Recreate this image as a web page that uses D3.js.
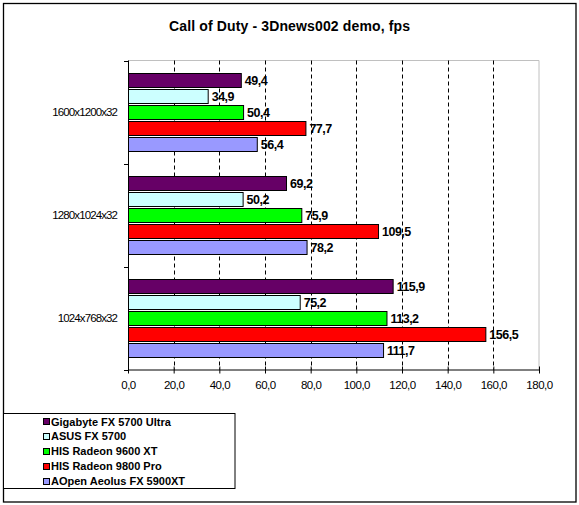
<!DOCTYPE html>
<html>
<head>
<meta charset="utf-8">
<script src="https://cdn.jsdelivr.net/npm/d3@7"></script>
<style>
  html, body { margin: 0; padding: 0; background: #fff; }
  svg { display: block; font-family: Arial, "Liberation Sans", sans-serif; }
</style>
</head>
<body>
<svg id="chart" width="579" height="505"></svg>
<script>
const title = "Call of Duty - 3Dnews002 demo, fps";
const categories = ["1600x1200x32", "1280x1024x32", "1024x768x32"];
const seriesNames = ["Gigabyte FX 5700 Ultra", "ASUS FX 5700", "HIS Radeon 9600 XT", "HIS Radeon 9800 Pro", "AOpen Aeolus FX 5900XT"];
const seriesColors = ["#660066", "#CCFFFF", "#00FF00", "#FF0000", "#9999FF"];
const gigabyteFX5700Ultra = [49.4, 69.2, 115.9];
const asusFX5700 = [34.9, 50.2, 75.2];
const hisRadeon9600XT = [50.4, 75.9, 113.2];
const hisRadeon9800Pro = [77.7, 109.5, 156.5];
const aopenAeolusFX5900XT = [56.4, 78.2, 111.7];
const seriesValues = [gigabyteFX5700Ultra, asusFX5700, hisRadeon9600XT, hisRadeon9800Pro, aopenAeolusFX5900XT];
const xTicks = [0, 20, 40, 60, 80, 100, 120, 140, 160, 180];

const svg = d3.select("#chart");
const fmt = v => d3.format(".1f")(v).replace(".", ",");

// outer border
svg.append("rect").attr("x", 3.5).attr("y", 3.5).attr("width", 572.5).attr("height", 498.5)
  .attr("fill", "#fff").attr("stroke", "#000").attr("stroke-width", 1.3);

// title
svg.append("text").attr("x", 289.5).attr("y", 31).attr("text-anchor", "middle")
  .attr("font-size", 14).attr("font-weight", "bold")
  .attr("textLength", 241).attr("lengthAdjust", "spacing")
  .text(title);

const plot = { left: 128, right: 539, top: 60.5, bottom: 369.5 };
const x = d3.scaleLinear().domain([0, 180]).range([plot.left, plot.right]);
const y0 = d3.scaleBand().domain(categories).range([plot.top, plot.bottom]).padding(0);
const groupPad = 12.7;
const y1 = d3.scaleBand().domain(seriesNames).range([groupPad, y0.bandwidth() - groupPad]).paddingInner(0.15);

// plot area frame (gray top & right)
svg.append("path")
  .attr("d", `M${plot.left},${plot.top}H${plot.right}V${plot.bottom}`)
  .attr("fill", "none").attr("stroke", "#c0c0c0").attr("stroke-width", 1);

// gridlines
svg.append("g").selectAll("line").data(xTicks.filter(t => t > 0 && t < 180)).join("line")
  .attr("x1", d => Math.round(x(d)) + 0.5).attr("x2", d => Math.round(x(d)) + 0.5)
  .attr("y1", plot.top).attr("y2", plot.bottom)
  .attr("stroke", "#000").attr("stroke-width", 1).attr("stroke-dasharray", "4,3");

// bars
const data = [];
categories.forEach((c, ci) => {
  seriesNames.forEach((s, si) => {
    data.push({ cat: c, series: s, color: seriesColors[si], value: seriesValues[si][ci] });
  });
});
const bars = svg.append("g");
bars.selectAll("rect").data(data).join("rect")
  .attr("x", plot.left + 0.5)
  .attr("y", d => Math.round(y0(d.cat) + y1(d.series)) + 0.5)
  .attr("width", d => x(d.value) - plot.left)
  .attr("height", Math.round(y1.bandwidth()))
  .attr("fill", d => d.color).attr("stroke", "#000").attr("stroke-width", 1);

bars.selectAll("text").data(data).join("text")
  .attr("x", d => x(d.value) + 4)
  .attr("y", d => y0(d.cat) + y1(d.series) + y1.bandwidth() / 2)
  .attr("dy", "0.36em")
  .attr("font-size", 12.5).attr("font-weight", "bold").attr("letter-spacing", -0.5)
  .attr("fill", "#000")
  .text(d => fmt(d.value));

// x axis
const xAxis = svg.append("g").attr("transform", `translate(0,${plot.bottom})`)
  .call(d3.axisBottom(x).tickValues(xTicks).tickSize(4).tickFormat(fmt));
xAxis.select(".domain").attr("stroke", "#000").attr("d", `M${plot.left},0.5H${plot.right}`);
xAxis.selectAll(".tick line").attr("stroke", "#000").attr("y1", -3).attr("y2", 4);
xAxis.selectAll(".tick text").attr("y", 11).attr("dy", "0.71em")
  .attr("font-size", 11.5).attr("letter-spacing", -0.5).attr("fill", "#000")
  .attr("font-family", "Arial, 'Liberation Sans', sans-serif");

// y axis
const yAxis = svg.append("g");
yAxis.append("line").attr("x1", plot.left + 0.5).attr("x2", plot.left + 0.5)
  .attr("y1", plot.top).attr("y2", plot.bottom).attr("stroke", "#000");
const bounds = categories.map(c => y0(c)).concat([y0.range()[1]]);
yAxis.selectAll("line.tk").data(bounds).join("line").attr("class", "tk")
  .attr("x1", plot.left - 4).attr("x2", plot.left + 1)
  .attr("y1", d => Math.round(d) + 0.5).attr("y2", d => Math.round(d) + 0.5)
  .attr("stroke", "#000");
yAxis.selectAll("text").data(categories).join("text")
  .attr("x", 117).attr("y", d => y0(d) + y0.bandwidth() / 2).attr("dy", "0.36em")
  .attr("text-anchor", "end").attr("font-size", 11.5).attr("letter-spacing", -0.9)
  .text(d => d);

// legend
const lg = svg.append("g");
lg.append("rect").attr("x", 3.5).attr("y", 413.5).attr("width", 231.5).attr("height", 75)
  .attr("fill", "#fff").attr("stroke", "#000").attr("stroke-width", 1);
const ly = d3.scalePoint().domain(seriesNames).range([421.7, 481]);
const items = lg.selectAll("g.it").data(seriesNames).join("g").attr("class", "it");
items.append("rect")
  .attr("x", 43.5).attr("y", d => Math.round(ly(d) - 3.5) + 0.5)
  .attr("width", 6).attr("height", 6)
  .attr("fill", (d, i) => seriesColors[i]).attr("stroke", "#000");
items.append("text")
  .attr("x", 51).attr("y", d => ly(d)).attr("dy", "0.36em")
  .attr("font-size", 11).attr("font-weight", "bold")
  .text(d => d);
</script>
</body>
</html>
